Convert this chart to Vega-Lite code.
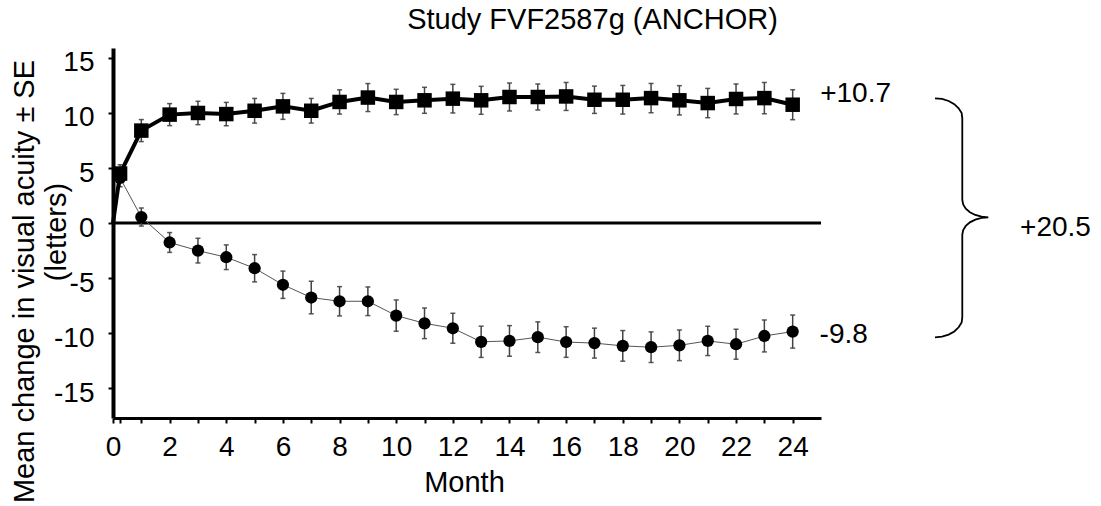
{
  "$schema": "https://vega.github.io/schema/vega-lite/v6.json",
  "width": 708,
  "height": 370,
  "autosize": "none",
  "padding": {"left": 113, "top": 48, "right": 280, "bottom": 88},
  "config": {
    "font": "Liberation Sans",
    "view": {"stroke": null},
    "axis": {"grid": false, "labelColor": "black", "titleColor": "black", "domainColor": "black", "tickColor": "black", "titleFontWeight": "normal"}
  },
  "datasets": {
    "series": [
      {"group": "r", "month": 0, "mean": 0, "se": null},
      {"group": "r", "month": 0.25, "mean": 4.5, "se": 0.8},
      {"group": "r", "month": 1, "mean": 8.4, "se": 1.0},
      {"group": "r", "month": 2, "mean": 9.85, "se": 1.0},
      {"group": "r", "month": 3, "mean": 10.0, "se": 1.06},
      {"group": "r", "month": 4, "mean": 9.9, "se": 1.06},
      {"group": "r", "month": 5, "mean": 10.2, "se": 1.12},
      {"group": "r", "month": 6, "mean": 10.6, "se": 1.18},
      {"group": "r", "month": 7, "mean": 10.2, "se": 1.12},
      {"group": "r", "month": 8, "mean": 11.0, "se": 1.1},
      {"group": "r", "month": 9, "mean": 11.4, "se": 1.27},
      {"group": "r", "month": 10, "mean": 11.0, "se": 1.15},
      {"group": "r", "month": 11, "mean": 11.15, "se": 1.18},
      {"group": "r", "month": 12, "mean": 11.3, "se": 1.3},
      {"group": "r", "month": 13, "mean": 11.15, "se": 1.27},
      {"group": "r", "month": 14, "mean": 11.45, "se": 1.27},
      {"group": "r", "month": 15, "mean": 11.45, "se": 1.18},
      {"group": "r", "month": 16, "mean": 11.5, "se": 1.27},
      {"group": "r", "month": 17, "mean": 11.2, "se": 1.24},
      {"group": "r", "month": 18, "mean": 11.2, "se": 1.3},
      {"group": "r", "month": 19, "mean": 11.35, "se": 1.33},
      {"group": "r", "month": 20, "mean": 11.15, "se": 1.33},
      {"group": "r", "month": 21, "mean": 10.9, "se": 1.33},
      {"group": "r", "month": 22, "mean": 11.27, "se": 1.36},
      {"group": "r", "month": 23, "mean": 11.35, "se": 1.42},
      {"group": "r", "month": 24, "mean": 10.75, "se": 1.36},
      {"group": "s", "month": 0, "mean": 0, "se": null},
      {"group": "s", "month": 0.25, "mean": 4.1, "se": 0.8},
      {"group": "s", "month": 1, "mean": 0.55, "se": 0.82},
      {"group": "s", "month": 2, "mean": -1.76, "se": 0.9},
      {"group": "s", "month": 3, "mean": -2.5, "se": 1.12},
      {"group": "s", "month": 4, "mean": -3.1, "se": 1.12},
      {"group": "s", "month": 5, "mean": -4.1, "se": 1.24},
      {"group": "s", "month": 6, "mean": -5.6, "se": 1.24},
      {"group": "s", "month": 7, "mean": -6.76, "se": 1.48},
      {"group": "s", "month": 8, "mean": -7.1, "se": 1.33},
      {"group": "s", "month": 9, "mean": -7.1, "se": 1.3},
      {"group": "s", "month": 10, "mean": -8.4, "se": 1.42},
      {"group": "s", "month": 11, "mean": -9.1, "se": 1.39},
      {"group": "s", "month": 12, "mean": -9.55, "se": 1.36},
      {"group": "s", "month": 13, "mean": -10.78, "se": 1.42},
      {"group": "s", "month": 14, "mean": -10.7, "se": 1.39},
      {"group": "s", "month": 15, "mean": -10.36, "se": 1.39},
      {"group": "s", "month": 16, "mean": -10.8, "se": 1.39},
      {"group": "s", "month": 17, "mean": -10.9, "se": 1.36},
      {"group": "s", "month": 18, "mean": -11.15, "se": 1.39},
      {"group": "s", "month": 19, "mean": -11.27, "se": 1.39},
      {"group": "s", "month": 20, "mean": -11.1, "se": 1.39},
      {"group": "s", "month": 21, "mean": -10.7, "se": 1.33},
      {"group": "s", "month": 22, "mean": -11.0, "se": 1.36},
      {"group": "s", "month": 23, "mean": -10.25, "se": 1.45},
      {"group": "s", "month": 24, "mean": -9.85, "se": 1.5}
    ],
    "zero": [
      {"month": 0, "mean": 0},
      {"month": 25, "mean": 0}
    ],
    "brace": [
      {"seq": 1, "month": 29.025, "mean": 11.333},
      {"seq": 2, "month": 29.275, "mean": 11.271},
      {"seq": 3, "month": 29.507, "mean": 11.09},
      {"seq": 4, "month": 29.707, "mean": 10.801},
      {"seq": 5, "month": 29.86, "mean": 10.425},
      {"seq": 6, "month": 29.967, "mean": 9.987},
      {"seq": 7, "month": 29.989, "mean": 9.517},
      {"seq": 8, "month": 29.989, "mean": 2.098},
      {"seq": 9, "month": 30.021, "mean": 1.691},
      {"seq": 10, "month": 30.112, "mean": 1.312},
      {"seq": 11, "month": 30.258, "mean": 0.987},
      {"seq": 12, "month": 30.448, "mean": 0.737},
      {"seq": 13, "month": 30.67, "mean": 0.58},
      {"seq": 14, "month": 30.907, "mean": 0.527},
      {"seq": 15, "month": 30.67, "mean": 0.473},
      {"seq": 16, "month": 30.448, "mean": 0.316},
      {"seq": 17, "month": 30.258, "mean": 0.066},
      {"seq": 18, "month": 30.112, "mean": -0.259},
      {"seq": 19, "month": 30.021, "mean": -0.637},
      {"seq": 20, "month": 29.989, "mean": -1.044},
      {"seq": 21, "month": 29.989, "mean": -8.554},
      {"seq": 22, "month": 29.967, "mean": -9.025},
      {"seq": 23, "month": 29.86, "mean": -9.462},
      {"seq": 24, "month": 29.707, "mean": -9.838},
      {"seq": 25, "month": 29.507, "mean": -10.127},
      {"seq": 26, "month": 29.275, "mean": -10.309},
      {"seq": 27, "month": 29.025, "mean": -10.371}
    ],
    "labels": [
      {"label": "+10.7", "month": 24.97, "mean": 11.02},
      {"label": "-9.8", "month": 24.95, "mean": -10.915},
      {"label": "+20.5", "month": 32.03, "mean": -1.171}
    ],
    "heading": [
      {"label": "Study FVF2587g (ANCHOR)", "month": 16.93, "mean": 17.6}
    ],
    "axisnote": [
      {"label": "(letters)", "month": -1.67, "mean": -0.81}
    ]
  },
  "encoding": {
    "x": {
      "field": "month",
      "type": "quantitative",
      "scale": {"domain": [0, 25], "nice": false, "zero": false},
      "axis": {
        "values": [0, 0.25, 1, 2, 3, 4, 5, 6, 7, 8, 9, 10, 11, 12, 13, 14, 15, 16, 17, 18, 19, 20, 21, 22, 23, 24],
        "labelExpr": "datum.value % 2 == 0 ? '' + datum.value : ''",
        "labelOverlap": false,
        "labelFlush": false,
        "labelFontSize": 28,
        "labelBaseline": "alphabetic",
        "labelPadding": 32,
        "tickSize": 5,
        "tickWidth": 2,
        "domainWidth": 3,
        "title": "Month",
        "titleFontSize": 29,
        "titleBaseline": "alphabetic",
        "titleAlign": "center",
        "titleX": 351,
        "titleY": 73
      }
    },
    "y": {
      "field": "mean",
      "type": "quantitative",
      "scale": {"domain": [-17.7, 15.9], "nice": false, "zero": false},
      "axis": {
        "values": [-15, -10, -5, 0, 5, 10, 15],
        "labelExpr": "'' + datum.value",
        "labelFontSize": 28,
        "labelBaseline": "alphabetic",
        "labelOffset": 13,
        "labelPadding": 14,
        "tickSize": 5,
        "tickWidth": 2,
        "domainWidth": 4,
        "title": "Mean change in visual acuity ± SE",
        "titleFontSize": 29,
        "titleAngle": 270,
        "titleAlign": "center",
        "titleBaseline": "alphabetic",
        "titleX": -80,
        "titleY": 233
      }
    }
  },
  "layer": [
    {
      "data": {"name": "zero"},
      "mark": {"type": "line", "color": "black", "strokeWidth": 3}
    },
    {
      "data": {"name": "series"},
      "transform": [{"filter": "datum.month > 0"}],
      "mark": {
        "type": "errorbar",
        "ticks": {"size": 5, "thickness": 1.5, "color": "#111"},
        "rule": {"strokeWidth": 1.5, "color": "#444"}
      },
      "encoding": {
        "yError": {"field": "se"},
        "detail": {"field": "group"}
      }
    },
    {
      "data": {"name": "series"},
      "transform": [{"filter": "datum.group == 's'"}],
      "mark": {"type": "line", "color": "#555", "strokeWidth": 1}
    },
    {
      "data": {"name": "series"},
      "transform": [{"filter": "datum.group == 'r'"}],
      "mark": {"type": "line", "color": "black", "strokeWidth": 4}
    },
    {
      "data": {"name": "series"},
      "transform": [{"filter": "datum.group == 's' && datum.month > 0"}],
      "mark": {"type": "point", "shape": "circle", "filled": true, "color": "black", "opacity": 1, "size": 150}
    },
    {
      "data": {"name": "series"},
      "transform": [{"filter": "datum.group == 'r' && datum.month > 0"}],
      "mark": {"type": "point", "shape": "square", "filled": true, "color": "black", "opacity": 1, "size": 210}
    },
    {
      "data": {"name": "brace"},
      "mark": {"type": "line", "color": "black", "strokeWidth": 1.8},
      "encoding": {"order": {"field": "seq", "type": "quantitative"}}
    },
    {
      "data": {"name": "labels"},
      "mark": {"type": "text", "align": "left", "baseline": "alphabetic", "fontSize": 28, "color": "black"},
      "encoding": {"text": {"field": "label"}}
    },
    {
      "data": {"name": "heading"},
      "mark": {"type": "text", "align": "center", "baseline": "alphabetic", "fontSize": 29, "color": "black"},
      "encoding": {"text": {"field": "label"}}
    },
    {
      "data": {"name": "axisnote"},
      "mark": {"type": "text", "align": "center", "baseline": "alphabetic", "angle": 270, "fontSize": 29, "color": "black"},
      "encoding": {"text": {"field": "label"}}
    }
  ]
}
